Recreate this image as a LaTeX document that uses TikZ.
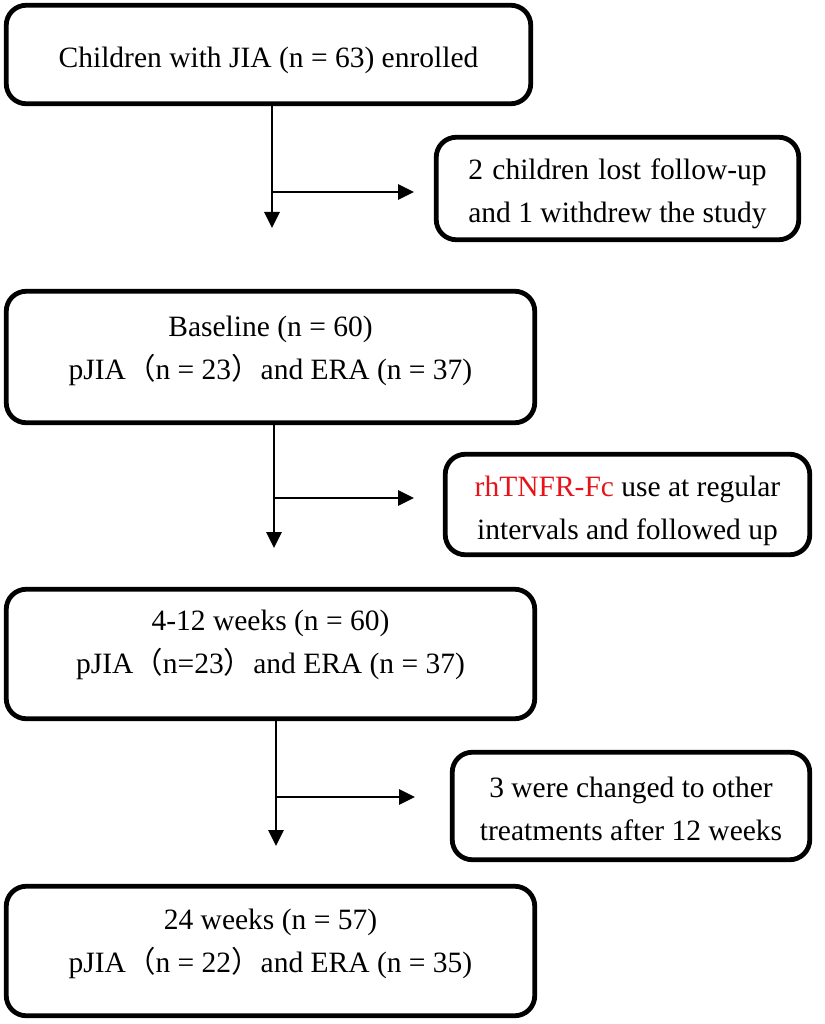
\documentclass[tikz,border=0pt]{standalone}
\usepackage{fontspec}
\setmainfont{Liberation Serif}
\newfontfamily\cjk{Noto Sans CJK SC}
\usetikzlibrary{arrows.meta}
\definecolor{hlred}{RGB}{230,20,25}
\newcommand{\lp}{{\cjk （}}
\newcommand{\rp}{{\cjk ）}}
\begin{document}
\begin{tikzpicture}[x=1pt,y=-1pt,
  box/.style={draw, line width=4.8pt, rounded corners=20pt, inner sep=0pt},
  txt/.style={font=\fontsize{29.5}{43}\selectfont, align=center, inner sep=0pt},
  conn/.style={line width=2.7pt, -{Triangle[length=16pt,width=15pt]}}
]
\useasboundingbox (0,0) rectangle (824,1024);

% boxes
\node[box, minimum width=524.5pt, minimum height=98.5pt] (b1) at (268.5,54.5) {};
\node[box, minimum width=362.5pt, minimum height=102.5pt] (b2) at (617.5,188.5) {};
\node[box, minimum width=528.5pt, minimum height=131.5pt] (b3) at (270.5,357) {};
\node[box, minimum width=364.5pt, minimum height=100.5pt] (b4) at (627.5,504.5) {};
\node[box, minimum width=528.5pt, minimum height=129.5pt] (b5) at (270.5,654) {};
\node[box, minimum width=357.5pt, minimum height=107.5pt] (b6) at (631,806) {};
\node[box, minimum width=528.5pt, minimum height=129.5pt] (b7) at (270.5,951) {};

% texts
\node[txt] (t1) at (268.5,60) {Children with JIA (n = 63) enrolled};
\node[txt] (t2) at (617.5,194) {{\setbox0=\hbox{and 1 withdrew the study}\hbox to \wd0{2\hfill children\hfill lost\hfill follow-up}}\\and 1 withdrew the study};
\node[txt] (t3) at (270.5,351) {Baseline (n = 60)\\pJIA\lp n = 23\rp and ERA (n = 37)};
\node[txt] (t4) at (627.5,511) {\textcolor{hlred}{rhTNFR-Fc} use at regular\\intervals and followed up};
\node[txt] (t5) at (270.5,645) {4-12 weeks (n = 60)\\pJIA\lp n=23\rp and ERA (n = 37)};
\node[txt] (t6) at (631,809) {3 were changed to other\\treatments after 12 weeks};
\node[txt] (t7) at (270.5,944) {24 weeks (n = 57)\\pJIA\lp n = 22\rp and ERA (n = 35)};

% connectors
\coordinate (d1) at (272,228);
\coordinate (h1) at (272,192);
\coordinate (e1) at (414,192);
\draw[conn] (b1.south -| d1) -- (d1);
\draw[conn] (h1) -- (e1);

\coordinate (d2) at (274,548);
\coordinate (h2) at (274,498);
\coordinate (e2) at (414,498);
\draw[conn] (b3.south -| d2) -- (d2);
\draw[conn] (h2) -- (e2);

\coordinate (d3) at (276,846);
\coordinate (h3) at (276,797);
\coordinate (e3) at (415,797);
\draw[conn] (b5.south -| d3) -- (d3);
\draw[conn] (h3) -- (e3);
\end{tikzpicture}
\end{document}
